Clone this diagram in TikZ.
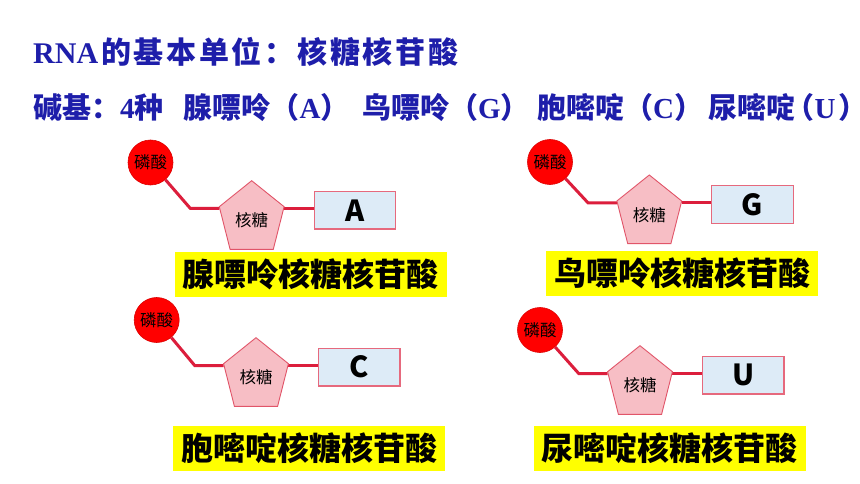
\documentclass[tikz,border=0pt]{standalone}
\usepackage{fontspec}
\setmainfont{Liberation Serif}
\newfontfamily\cjk{Noto Sans CJK SC}
\newfontfamily\cjkwide{Noto Sans CJK SC}[LetterSpace=9]
\newfontfamily\tnr{Liberation Serif}
\usetikzlibrary{calc}
\definecolor{titleblue}{RGB}{30,30,170}
\definecolor{linkred}{RGB}{220,30,60}
\definecolor{phosred}{RGB}{255,0,0}
\definecolor{phosedge}{RGB}{220,0,0}
\definecolor{sugarfill}{RGB}{247,190,197}
\definecolor{sugaredge}{RGB}{225,85,105}
\definecolor{basefill}{RGB}{221,235,247}
\definecolor{baseedge}{RGB}{230,105,125}
\definecolor{labelyellow}{RGB}{255,255,0}
\tikzset{
  phos/.style={circle, fill=phosred, draw=phosedge, line width=0.6pt, minimum size=45pt, inner sep=0pt, font=\cjk\fontsize{16.5}{16.5}\selectfont},
  link/.style={draw=linkred, line width=3pt},
  sugarshape/.style={fill=sugarfill, draw=sugaredge, line width=0.9pt, line join=miter},
  sugartext/.style={font=\cjk\fontsize{16.5}{16.5}\selectfont, inner sep=0pt},
  basebox/.style={fill=basefill, draw=baseedge, line width=1.2pt, minimum width=81.5pt, minimum height=37.6pt, inner sep=0pt, font=\cjk\bfseries\fontsize{29}{29}\selectfont},
  namelabel/.style={fill=labelyellow, minimum width=272pt, minimum height=45pt, inner sep=0pt, font=\cjk\bfseries\fontsize{32}{32}\selectfont},
  headline/.style={anchor=base west, inner sep=0pt, text=titleblue}
}
% #1 name, #2 top x, #3 top y, #4 circle x, #5 circle y, #6 base letter
\newcommand\nucleotide[6]{%
  \node[phos] (#1p) at (#4,#5) {磷酸};
  \coordinate (#1t) at (#2,#3);
  \coordinate (#1l) at ($(#1t)+(-32.4,26)$);
  \coordinate (#1r) at ($(#1t)+(32.4,26)$);
  \coordinate (#1bl) at ($(#1t)+(-21.6,68.6)$);
  \coordinate (#1br) at ($(#1t)+(21.6,68.6)$);
  \coordinate (#1b) at ($(#1t)+(-61.3,27.8)$);
  \node[basebox] (#1box) at ($(#1t)+(103.3,29.5)$) {#6};
  \draw[link] (#1p) -- (#1b) -- (#1b -| #1l);
  \draw[link] (#1b -| #1r) -- (#1b -| #1box.west);
  \draw[sugarshape] (#1t) -- (#1r) -- (#1br) -- (#1bl) -- (#1l) -- cycle;
  \node[sugartext] (#1s) at ($(#1t)+(0,40)$) {核糖};
}
\begin{document}
\begin{tikzpicture}[x=1pt,y=-1pt]
\useasboundingbox (0,0) rectangle (860,484);
\fill[white] (0,0) rectangle (860,484);

\node[headline, font=\fontsize{30}{30}\selectfont] (title) at (33,64)
  {\tnr\bfseries RNA\hspace{3pt}\cjkwide\bfseries 的基本单位：核糖核苷酸};
\node[headline, font=\fontsize{29}{29}\selectfont] (bases) at (33,118.5)
  {\cjk\bfseries 碱基：\tnr 4\cjk 种\hspace{20pt}腺嘌呤（\tnr A\cjk ）\hspace{12.5pt}鸟嘌呤（\tnr G\cjk ）\hspace{7.4pt}胞嘧啶（\tnr C\cjk ）\hspace{5.7pt}尿嘧啶\makebox[19pt][r]{（}\tnr U\cjk \hspace{3pt}\makebox[10pt][l]{）}};

\nucleotide{a}{251.7}{180.7}{150.5}{162.5}{A}
\nucleotide{g}{649.3}{175}{550}{162}{G}
\nucleotide{c}{256}{337.7}{156.7}{320}{C}
\nucleotide{u}{640}{345.7}{540}{330}{U}

\node[namelabel] (alabel) at (310.5,274.2) {腺嘌呤核糖核苷酸};
\node[namelabel] (glabel) at (682.2,273.5) {鸟嘌呤核糖核苷酸};
\node[namelabel] (clabel) at (309.2,448.2) {胞嘧啶核糖核苷酸};
\node[namelabel] (ulabel) at (669.7,448.2) {尿嘧啶核糖核苷酸};
\end{tikzpicture}
\end{document}
